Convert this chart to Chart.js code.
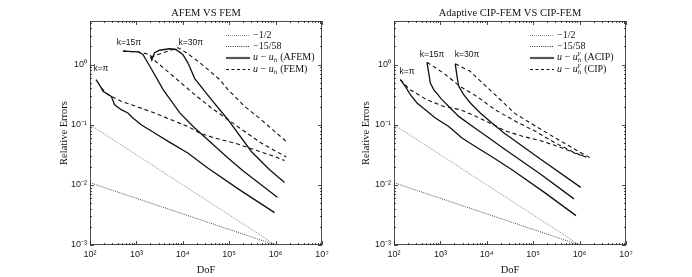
<!DOCTYPE html>
<html><head><meta charset="utf-8">
<script src="https://cdn.jsdelivr.net/npm/chart.js@4"></script>
<style>
html,body{margin:0;padding:0;background:#fff;width:692px;height:277px;overflow:hidden}
canvas{position:absolute;top:0}
#c1{left:0}
#c2{left:346px}
</style></head><body>
<canvas id="c1" width="346" height="277"></canvas>
<canvas id="c2" width="346" height="277"></canvas>
<script>
// ---------- tick labels ----------
const xTickValues = [1e2, 1e3, 1e4, 1e5, 1e6, 1e7];
const xTickLabels = ['10²', '10³', '10⁴', '10⁵', '10⁶', '10⁷'];
const yTickValues = [1e-3, 1e-2, 1e-1, 1e0];
const yTickLabels = ['10⁻³', '10⁻²', '10⁻¹', '10⁰'];

// ---------- reference slopes ----------
const refX = [1e2, 1e6];
const refHalfY = [0.1, 0.001];
const ref1558Y = [0.01083, 0.001];

// ---------- left chart: AFEM vs FEM ----------
const afemPiX = [135, 175, 190, 287, 340, 471, 656, 841, 1268, 2460, 5600, 12800, 34500, 168000, 950000];
const afemPiY = [0.562, 0.409, 0.359, 0.296, 0.215, 0.178, 0.157, 0.129, 0.100, 0.0728, 0.0495, 0.0338, 0.019, 0.00826, 0.00345];
const femPiX = [175, 244, 471, 1076, 2460, 5600, 12800, 23200, 48800, 131000, 353000, 950000, 1560000];
const femPiY = [0.409, 0.316, 0.245, 0.197, 0.157, 0.121, 0.0937, 0.0728, 0.060, 0.0495, 0.0383, 0.0296, 0.0254];

const afem15X = [513, 1076, 1380, 1950, 3770, 8600, 18100, 41400, 94200, 198000, 1090000];
const afem15Y = [1.67, 1.63, 1.47, 0.937, 0.383, 0.157, 0.0881, 0.0495, 0.0279, 0.0171, 0.00624];
const fem15X = [513, 1076, 1950, 2260, 18100, 41400, 94200, 215000, 492000, 1700000];
const fem15Y = [1.67, 1.63, 1.47, 1.245, 0.316, 0.19, 0.121, 0.0773, 0.0495, 0.029];

const afem30X = [2020, 2150, 2460, 3150, 5170, 7070, 10000, 12800, 18100, 41400, 94200, 300000, 743000, 1560000];
const afem30Y = [1.34, 1.18, 1.57, 1.73, 1.83, 1.78, 1.47, 1.08, 0.585, 0.261, 0.121, 0.0359, 0.0178, 0.0109];
const fem30X = [2020, 7930, 12000, 23200, 62500, 94200, 215000, 492000, 950000, 1700000];
const fem30Y = [1.34, 1.90, 1.57, 1.08, 0.562, 0.383, 0.202, 0.121, 0.0773, 0.0527];

// ---------- right chart: Adaptive CIP-FEM vs CIP-FEM ----------
const acipPiX = [137, 175, 225, 313, 473, 777, 1510, 2920, 5650, 12900, 34900, 180000, 836000];
const acipPiY = [0.562, 0.435, 0.316, 0.230, 0.178, 0.129, 0.0937, 0.060, 0.0435, 0.0293, 0.0178, 0.00736, 0.00308];
const cipPiX = [137, 221, 507, 1155, 2640, 6050, 13800, 24700, 56500, 152000, 411000, 937000, 1245000];
const cipPiY = [0.562, 0.383, 0.261, 0.202, 0.178, 0.136, 0.1, 0.0794, 0.0648, 0.0535, 0.0414, 0.032, 0.0304];

const acip15X = [514, 560, 606, 718, 1080, 1633, 2480, 5050, 11000, 23500, 140000, 757000];
const acip15Y = [1.09, 0.727, 0.495, 0.383, 0.261, 0.19, 0.1375, 0.0926, 0.0607, 0.0398, 0.0153, 0.00585];
const cip15X = [514, 1155, 2640, 6050, 15000, 40600, 109000, 295000, 796000, 1517000];
const cip15Y = [1.09, 0.727, 0.435, 0.296, 0.178, 0.115, 0.0785, 0.0501, 0.0341, 0.0282];

const acip30X = [2090, 2280, 2480, 3180, 4410, 7240, 12900, 23500, 140000, 1057000];
const acip30Y = [1.03, 0.638, 0.435, 0.316, 0.230, 0.157, 0.1067, 0.0728, 0.0271, 0.00908];
const cip30X = [2090, 4350, 15000, 40600, 109000, 295000, 796000, 1849000];
const cip30Y = [1.03, 0.773, 0.316, 0.153, 0.0962, 0.0607, 0.0388, 0.0271];

// ---------- annotations (data coordinates) ----------
const leftNoteText = ['k=π', 'k=15π', 'k=30π'];
const leftNoteX = [172, 690, 14900];
const leftNoteY = [0.857, 2.33, 2.33];
const rightNoteText = ['k=π', 'k=15π', 'k=30π'];
const rightNoteX = [191, 659, 3740];
const rightNoteY = [0.764, 1.468, 1.468];

const leftTitle = 'AFEM VS FEM';
const rightTitle = 'Adaptive CIP-FEM VS CIP-FEM';
const xTitle = 'DoF';
const yTitle = 'Relative Errors';

// ---------- styles ----------
const SOLID = {borderColor: '#111', borderWidth: 1.3};
const DASH = {borderColor: '#111', borderWidth: 1.1, borderDash: [4, 3]};
const REF1 = {borderColor: '#8c8c8c', borderWidth: 1, borderDash: [1, 1]};
const REF2 = {borderColor: '#444', borderWidth: 1, borderDash: [1, 1.2]};

function ser(label, xs, ys, st) {
  return Object.assign({label, data: xs.map((v, i) => ({x: v, y: ys[i]})), pointRadius: 0, showLine: true, fill: false, tension: 0}, st);
}

function logTicks(min, max) {
  const out = [];
  for (let e = Math.floor(Math.log10(min)) - 1; e <= Math.ceil(Math.log10(max)); e++) {
    for (let k = 1; k <= 9; k++) {
      const v = k * Math.pow(10, e);
      if (v >= min * 0.999 && v <= max * 1.001) out.push({v, major: k === 1});
    }
  }
  return out;
}

function drawParts(ctx, parts, x, y) {
  let cx = x;
  for (const p of parts) {
    if (p.t !== undefined) {
      ctx.font = (p.i ? 'italic ' : '') + '10px "Liberation Serif", serif';
      ctx.fillText(p.t, cx, y);
      cx += ctx.measureText(p.t).width;
    } else {
      ctx.font = 'italic 7px "Liberation Serif", serif';
      let w = 0;
      if (p.sub) { ctx.fillText(p.sub, cx, y + 3); w = Math.max(w, ctx.measureText(p.sub).width); }
      if (p.sup) { ctx.fillText(p.sup, cx, y - 4); w = Math.max(w, ctx.measureText(p.sup).width); }
      cx += w + 0.5;
    }
  }
}

const deco = {
  id: 'deco',
  afterDraw(chart, args, o) {
    const {ctx, chartArea: a} = chart;
    const xs = chart.scales.x, ys = chart.scales.y;
    ctx.save();
    ctx.strokeStyle = '#222';
    ctx.lineWidth = 0.8;
    ctx.setLineDash([]);
    ctx.strokeRect(a.left + 0.5, a.top + 0.5, a.right - a.left - 1, a.bottom - a.top - 1);
    ctx.beginPath();
    for (const t of logTicks(xs.min, xs.max)) {
      const px = Math.round(xs.getPixelForValue(t.v)) + 0.5;
      const L = t.major ? 4 : 2;
      ctx.moveTo(px, a.bottom); ctx.lineTo(px, a.bottom - L);
      ctx.moveTo(px, a.top); ctx.lineTo(px, a.top + L);
    }
    for (const t of logTicks(ys.min, ys.max)) {
      const py = Math.round(ys.getPixelForValue(t.v)) + 0.5;
      const L = t.major ? 4 : 2;
      ctx.moveTo(a.left, py); ctx.lineTo(a.left + L, py);
      ctx.moveTo(a.right, py); ctx.lineTo(a.right - L, py);
    }
    ctx.stroke();

    // title
    ctx.fillStyle = '#111';
    ctx.textAlign = 'center';
    ctx.textBaseline = 'middle';
    ctx.font = '10.5px "Liberation Serif", serif';
    ctx.fillText(o.title, (a.left + a.right) / 2, 13);

    // notes
    ctx.font = '8.5px "Liberation Sans", sans-serif';
    o.noteText.forEach((t, i) => {
      ctx.fillText(t, xs.getPixelForValue(o.noteX[i]), ys.getPixelForValue(o.noteY[i]));
    });

    // legend
    ctx.textAlign = 'left';
    const rows = [14, 25, 36.5, 48];
    const x0 = a.right - 96, x1 = a.right - 72, tx = a.right - 69;
    o.legend.forEach((it, i) => {
      const yy = a.top + rows[i];
      ctx.beginPath();
      const s = it.style;
      ctx.strokeStyle = s.color; ctx.lineWidth = s.width; ctx.setLineDash(s.dash || []);
      ctx.moveTo(x0, yy + 0.5); ctx.lineTo(x1, yy + 0.5); ctx.stroke();
      ctx.setLineDash([]);
      ctx.fillStyle = '#111';
      drawParts(ctx, it.parts, tx, yy);
    });
    ctx.restore();
  }
};

function makeChart(id, datasets, title, notes, legend, padLeft, yWidth, padRight) {
  return new Chart(document.getElementById(id), {
    type: 'scatter',
    data: {datasets},
    plugins: [deco],
    options: {
      responsive: false,
      animation: false,
      events: [],
      layout: {padding: {left: padLeft, top: 21, right: padRight, bottom: 0}},
      plugins: {
        legend: {display: false},
        tooltip: {enabled: false},
        deco: Object.assign({title, legend}, notes)
      },
      scales: {
        x: {
          type: 'logarithmic', min: 1e2, max: 1e7,
          grid: {display: false, drawTicks: false},
          border: {display: false},
          afterBuildTicks: s => { s.ticks = xTickValues.map(v => ({value: v})); },
          afterFit: s => { s.height = 32; s.paddingLeft = 0; s.paddingRight = 0; },
          ticks: {
            autoSkip: false, maxRotation: 0, padding: 4, color: '#222',
            font: {family: '"Liberation Sans", sans-serif', size: 9},
            callback: v => { const i = xTickValues.findIndex(t => Math.abs(t - v) / t < 1e-6); return i >= 0 ? xTickLabels[i] : ''; }
          },
          title: {display: true, text: xTitle, color: '#111', padding: {top: 0, bottom: 0},
                  font: {family: '"Liberation Serif", serif', size: 10.5}}
        },
        y: {
          type: 'logarithmic', min: 1e-3, max: 5.3,
          grid: {display: false, drawTicks: false},
          border: {display: false},
          afterBuildTicks: s => { s.ticks = yTickValues.map(v => ({value: v})); },
          afterFit: s => { s.width = yWidth; s.paddingTop = 0; s.paddingBottom = 0; },
          ticks: {
            autoSkip: false, padding: 3, color: '#222',
            font: {family: '"Liberation Sans", sans-serif', size: 9},
            callback: v => { const i = yTickValues.findIndex(t => Math.abs(t - v) / t < 1e-6); return i >= 0 ? yTickLabels[i] : ''; }
          },
          title: {display: true, text: yTitle, color: '#111', padding: {top: 2, bottom: 0},
                  font: {family: '"Liberation Serif", serif', size: 10.5}}
        }
      }
    }
  });
}

const legDot1 = {color: '#8c8c8c', width: 1, dash: [1, 1]};
const legDot2 = {color: '#333', width: 1, dash: [1, 1.2]};
const legSolid = {color: '#555', width: 2.2};
const legDash = {color: '#111', width: 1.1, dash: [3, 2.5]};

const leftLegend = [
  {style: legDot1, parts: [{t: '−1/2'}]},
  {style: legDot2, parts: [{t: '−15/58'}]},
  {style: legSolid, parts: [{t: 'u', i: true}, {t: ' − '}, {t: 'u', i: true}, {sub: 'h'}, {t: ' (AFEM)'}]},
  {style: legDash, parts: [{t: 'u', i: true}, {t: ' − '}, {t: 'u', i: true}, {sub: 'h'}, {t: ' (FEM)'}]}
];
const rightLegend = [
  {style: legDot1, parts: [{t: '−1/2'}]},
  {style: legDot2, parts: [{t: '−15/58'}]},
  {style: legSolid, parts: [{t: 'u', i: true}, {t: ' − '}, {t: 'u', i: true}, {sub: 'h', sup: 'γ'}, {t: ' (ACIP)'}]},
  {style: legDash, parts: [{t: 'u', i: true}, {t: ' − '}, {t: 'u', i: true}, {sub: 'h', sup: 'γ'}, {t: ' (CIP)'}]}
];

makeChart('c1', [
  ser('-1/2', refX, refHalfY, REF1),
  ser('-15/58', refX, ref1558Y, REF2),
  ser('AFEM k=π', afemPiX, afemPiY, SOLID),
  ser('AFEM k=15π', afem15X, afem15Y, SOLID),
  ser('AFEM k=30π', afem30X, afem30Y, SOLID),
  ser('FEM k=π', femPiX, femPiY, DASH),
  ser('FEM k=15π', fem15X, fem15Y, DASH),
  ser('FEM k=30π', fem30X, fem30Y, DASH)
], leftTitle, {noteText: leftNoteText, noteX: leftNoteX, noteY: leftNoteY}, leftLegend, 56, 34, 24);

makeChart('c2', [
  ser('-1/2', refX, refHalfY, REF1),
  ser('-15/58', refX, ref1558Y, REF2),
  ser('ACIP k=π', acipPiX, acipPiY, SOLID),
  ser('ACIP k=15π', acip15X, acip15Y, SOLID),
  ser('ACIP k=30π', acip30X, acip30Y, SOLID),
  ser('CIP k=π', cipPiX, cipPiY, DASH),
  ser('CIP k=15π', cip15X, cip15Y, DASH),
  ser('CIP k=30π', cip30X, cip30Y, DASH)
], rightTitle, {noteText: rightNoteText, noteX: rightNoteX, noteY: rightNoteY}, rightLegend, 12, 36, 66);
</script>
</body></html>
